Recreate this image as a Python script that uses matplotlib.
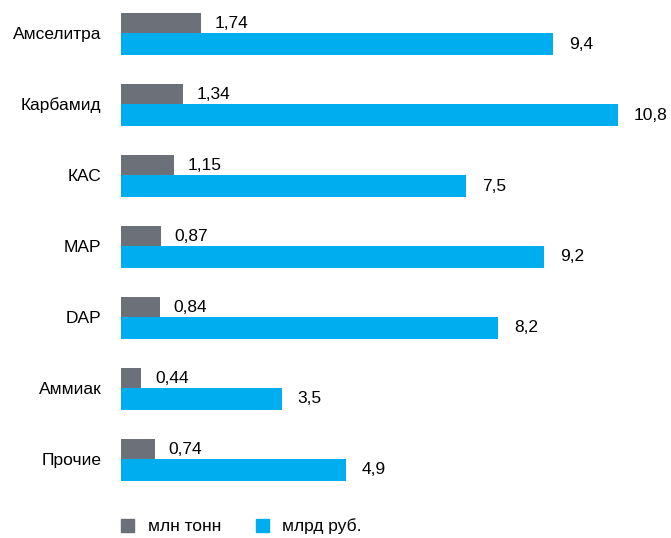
import matplotlib.pyplot as plt
from matplotlib.patches import Patch

categories = ['Амселитра', 'Карбамид', 'КАС', 'MAP', 'DAP', 'Аммиак', 'Прочие']
tonnes = [1.74, 1.34, 1.15, 0.87, 0.84, 0.44, 0.74]   # млн тонн
rubles = [9.4, 10.8, 7.5, 9.2, 8.2, 3.5, 4.9]         # млрд руб.

GRAY = '#6b7079'
BLUE = '#00aeef'
FS = 12.5

plt.rcParams['font.family'] = ['Liberation Sans', 'DejaVu Sans']

fig = plt.figure(figsize=(6.71, 5.38), dpi=100)
ax = fig.add_axes([121 / 671, 48 / 538, 550 / 671, 490 / 538])

ys = range(len(categories))
h_top, h_bot = 0.28, 0.31
ax.barh([y - h_top / 2 for y in ys], tonnes, height=h_top, color=GRAY)
ax.barh([y + h_bot / 2 for y in ys], rubles, height=h_bot, color=BLUE)

def fmt(v, nd):
    return f'{v:.{nd}f}'.replace('.', ',')

for y, t, r in zip(ys, tonnes, rubles):
    ax.text(t + 0.3, y - h_top / 2, fmt(t, 2), va='center', ha='left', fontsize=FS)
    ax.text(r + 0.34, y + h_bot / 2, fmt(r, 1), va='center', ha='left', fontsize=FS)

ax.set_xlim(0, 550 / 46)
ax.set_ylim(6.437, -0.465)
ax.set_yticks(list(ys))
ax.set_yticklabels(categories, fontsize=FS)
ax.tick_params(axis='y', length=0, pad=14)
ax.set_xticks([])
for s in ax.spines.values():
    s.set_visible(False)

handles = [Patch(color=GRAY), Patch(color=BLUE)]
fig.legend(handles, ['млн тонн', 'млрд руб.'], loc='lower left',
           bbox_to_anchor=(105 / 671, -12 / 538), ncol=2, frameon=False,
           fontsize=FS, handlelength=0.75, handleheight=0.75,
           handletextpad=0.8, columnspacing=2.0)

fig.savefig('out.png', dpi=100)
